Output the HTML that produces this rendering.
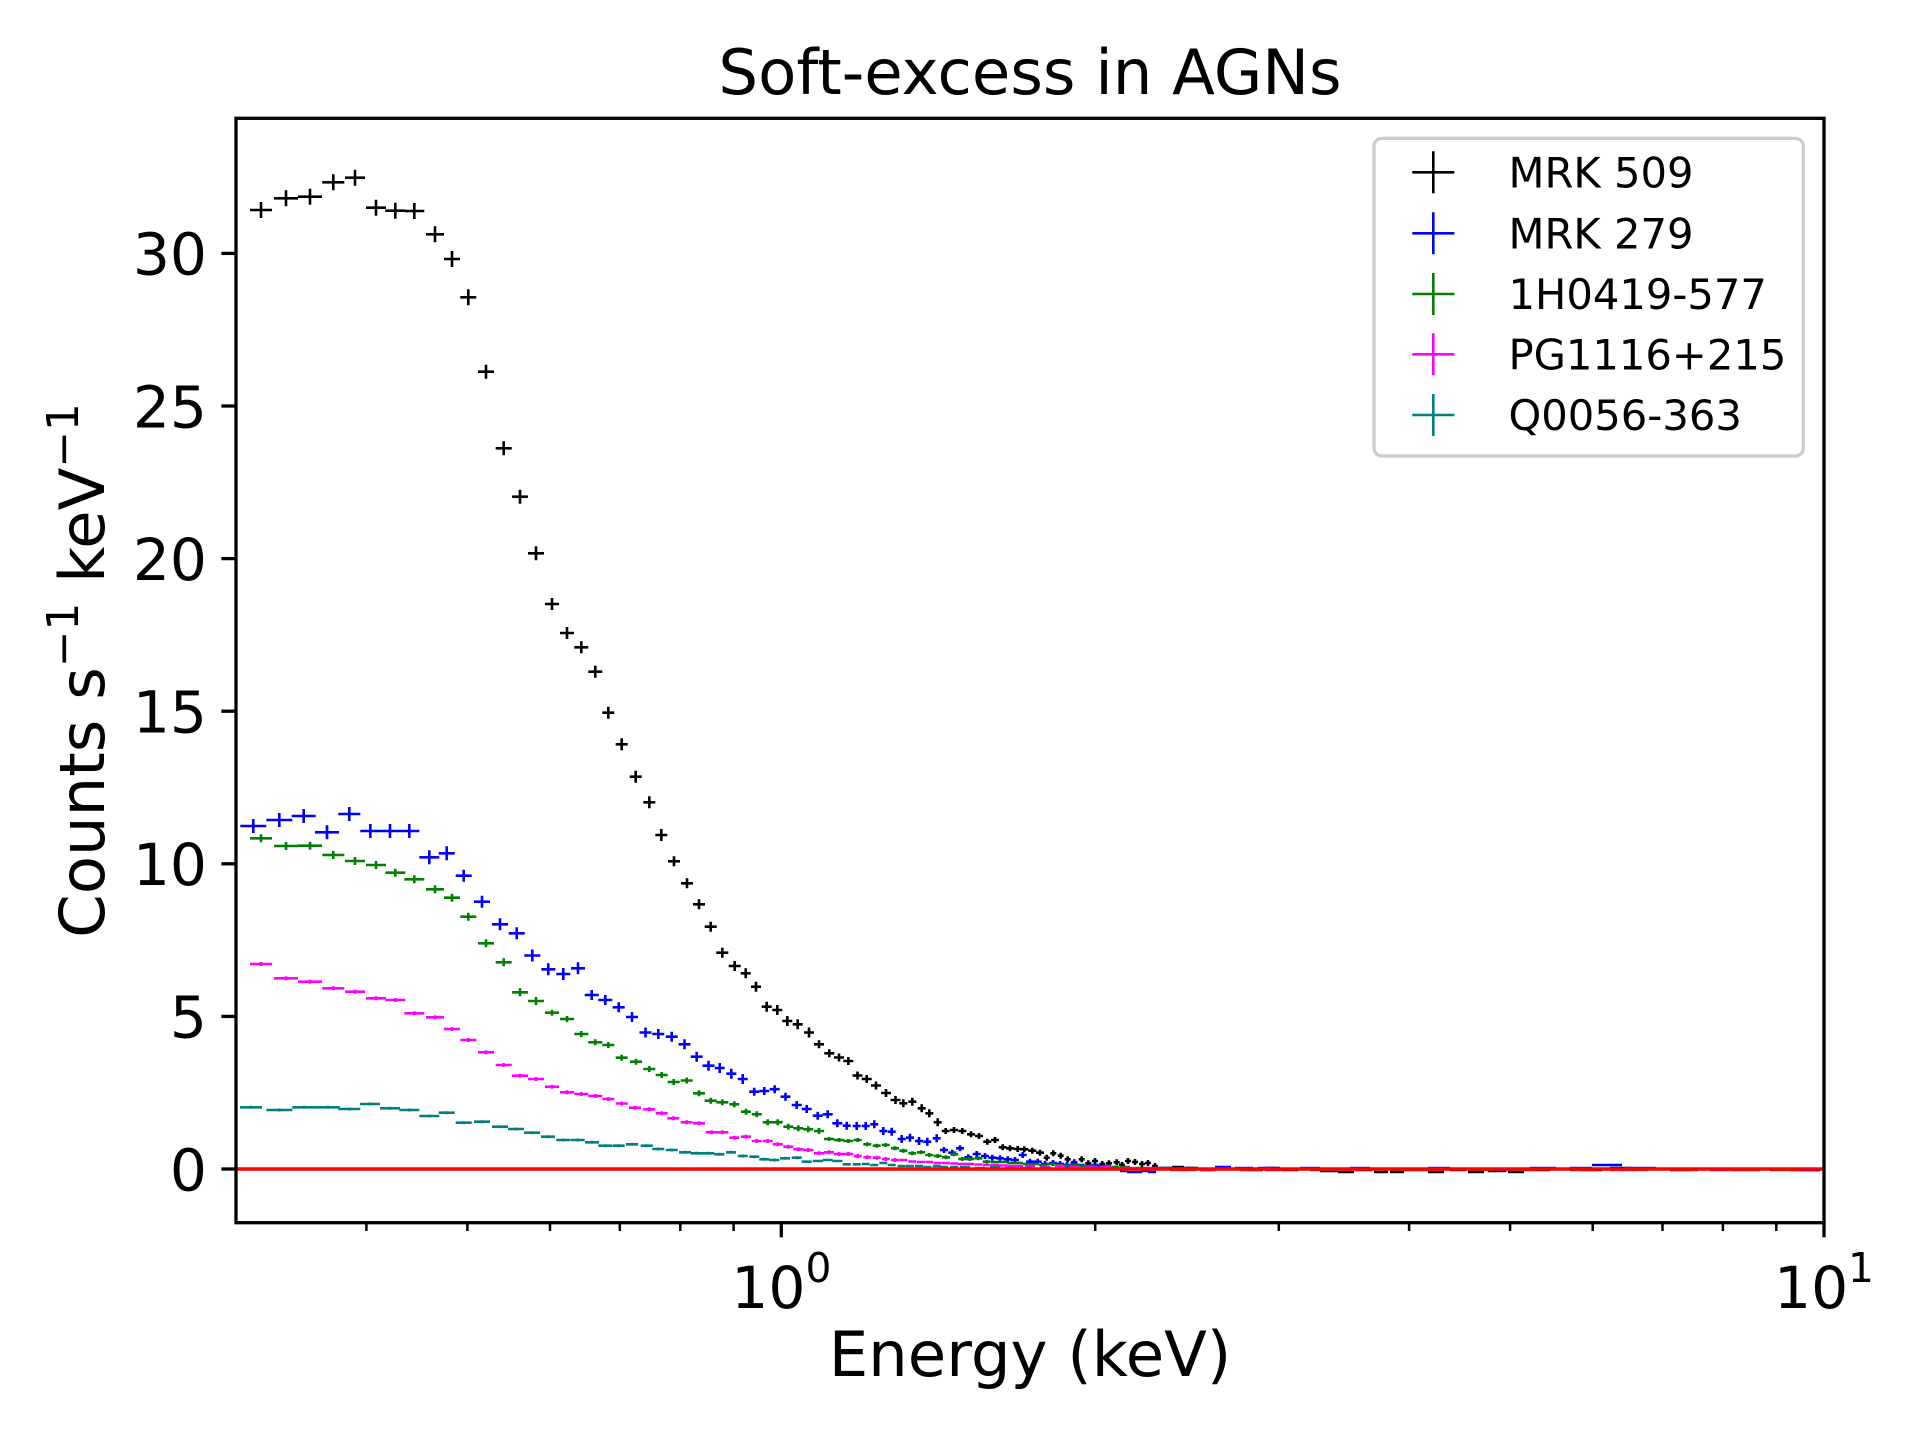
<!DOCTYPE html>
<html>
<head>
<meta charset="utf-8">
<style>
html,body{margin:0;padding:0;background:#fff;}
svg{display:block;}
text{font-family:"DejaVu Sans","Liberation Sans",sans-serif;fill:#000;}
</style>
</head>
<body>
<svg width="1920" height="1440" viewBox="0 0 1920 1440" xmlns="http://www.w3.org/2000/svg">
<rect x="0" y="0" width="1920" height="1440" fill="#fff"/>

<!-- Title -->
<text x="1030" y="94" text-anchor="middle" font-size="62.5">Soft-excess in AGNs</text>

<g fill="none" stroke-width="2.6" stroke-linecap="butt">
<!-- MRK 509 (black) -->
<path stroke="#000" d="M250 210h22M261 202v16M274 198.3h24M286 190.3v16M298 196.7h24M310 188.7v16M322.3 182.3h22M333.3 174.3v16M345 177.7h20M355 169.7v16M366 207.7h20M376 199.7v16M385.3 210.7h20M395.3 202.7v16M404.3 211h20M414.3 203v16M426 234.3h18M435 226.3v16M444 259h16M452 251v16M460.3 297.3h16M468.3 289.3v16M478 371.7h16M486 364.7v14M495.7 448.3h16M503.7 441.3v14M512 496.7h16M520 489.7v14M528 553.3h16M536 546.3v14M545 604h14M552 598v12M560 633h14M567 627v12M574.3 647.3h14M581.3 641.3v12M588.3 671.7h14M595.3 665.7v12M602.3 712.7h12M608.3 706.7v12M615.7 744.3h12M621.7 738.3v12M629.7 776.7h12M635.7 770.7v12M643.3 802.3h12M649.3 796.3v12M655.3 835h12M661.3 829v12M668 861.3h12M674 856.3v10M681 883.3h12M687 878.3v10M693 904.3h12M699 899.3v10M704.7 926.7h12M710.7 921.7v10M716.3 952.7h12M722.3 947.7v10M728.7 966h12M734.7 961v10M740.7 973.3h10M745.7 968.3v10M751 986.7h10M756 981.7v10M761.7 1006.7h10M766.7 1001.7v10M772.3 1010h10M777.3 1005v10M782.3 1021h10M787.3 1016v10M792.7 1024.3h10M797.7 1019.3v10M804 1032.5h10M809 1027.5v10M814 1044.3h10M819 1040.3v8M824.3 1053.3h10M829.3 1049.3v8M834 1057.5h10M839 1053.5v8M843.3 1061h10M848.3 1057v8M852.5 1075.5h10M857.5 1071.5v8M861.7 1079h10M866.7 1075v8M871 1085.5h10M876 1081.5v8M881 1093h10M886 1089v8M890.5 1100h10M895.5 1096v8M899.3 1103.3h8M903.3 1099.3v8M908.3 1101.7h8M912.3 1097.7v8M917.7 1108.3h8M921.7 1104.3v8M925.3 1113.3h8M929.3 1109.3v8M933.7 1122.3h8M937.7 1118.3v8M941.7 1131h8M945.7 1128v6M950 1130h8M954 1127v6M958.3 1131h8M962.3 1128v6M967 1134.3h8M971 1131.3v6M975 1136h8M979 1133v6M983.3 1141.7h8M987.3 1138.7v6M991 1140h8M995 1137v6M998.7 1147.3h8M1002.7 1144.3v6M1006 1148.3h8M1010 1145.3v6M1013.7 1149h8M1017.7 1146v6M1020.3 1149.3h8M1024.3 1146.3v6M1028.3 1150.7h8M1032.3 1147.7v6M1036 1152.7h8M1040 1149.7v6M1043.7 1157.7h6M1046.7 1154.7v6M1050.3 1153.3h6M1053.3 1150.3v6M1057.7 1155.7h6M1060.7 1152.7v6M1064.7 1159.3h6M1067.7 1156.3v6M1071.3 1162.3h6M1074.3 1159.3v6M1078.7 1159.3h6M1081.7 1156.3v6M1085.3 1163.3h6M1088.3 1160.3v6M1092 1161h6M1095 1158v6M1099.3 1164h6M1102.3 1161v6M1106 1163.3h6M1109 1160.3v6M1113.7 1162.3h6M1116.7 1159.3v6M1119 1165h6M1122 1162v6M1125 1161h6M1128 1158v6M1132 1162h6M1135 1159v6M1139 1164h6M1142 1161v6M1145 1163h6M1148 1160v6M1152 1166h6M1155 1163v6M1159 1168h12M1172 1167h12M1186 1168h12M1200 1170h13M1215 1168h14M1231 1169h15M1248 1170h15M1265 1168h15M1282 1170h16M1300 1169h18M1320 1171h18M1338 1172h16M1356 1170h16M1374 1172h14M1390 1172h14M1410 1170h16M1428 1172h16M1450 1170h16M1468 1172h16M1488 1171h18M1508 1172h16M1530 1170h20M1555 1169h20M1580 1170h22M1610 1168h22M1640 1169h22M1670 1170h22M1700 1169h25M1735 1170h25M1770 1169h25M1798 1170h22"/>

<!-- MRK 279 (blue) -->
<path stroke="#0000ff" d="M240.3 826h26M253.3 819v14M266.3 820h26M279.3 813v14M291.7 816h24M303.7 809v14M315 832.3h24M327 825.3v14M338.3 814h22M349.3 807v14M360.3 831h20M370.3 824v14M380 831h20M390 824v14M399.3 831h20M409.3 824v14M419.3 857.3h20M429.3 850.3v14M438.7 853.3h16M446.7 846.3v14M455.7 875.7h16M463.7 869.7v12M474 901.7h16M482 895.7v12M492 924.3h16M500 918.3v12M508.7 933.3h16M516.7 927.3v12M524.3 955.5h16M532.3 949.5v12M541.3 969.3h14M548.3 963.3v12M556.3 974h14M563.3 968v12M571 968.3h14M578 962.3v12M584.7 995h14M591.7 990v10M598.3 1000h14M605.3 995v10M612.7 1007.3h12M618.7 1002.3v10M626 1017h12M632 1012v10M639.5 1032.5h12M645.5 1027.5v10M652.3 1034h12M658.3 1029v10M665.7 1036.7h12M671.7 1031.7v10M678.5 1044.3h12M684.5 1039.3v10M690.7 1056.7h12M696.7 1051.7v10M702.5 1065.7h12M708.5 1060.7v10M714.7 1068h10M719.7 1063v10M726.3 1073.7h10M731.3 1068.7v10M737.7 1079h10M742.7 1074v10M749.2 1091.7h10M754.2 1087.7v8M759.3 1091h10M764.3 1087v8M769.7 1089.2h10M774.7 1085.2v8M780.5 1096.7h10M785.5 1092.7v8M791.7 1105h10M796.7 1101v8M801.7 1109h10M806.7 1105v8M812.7 1115.7h10M817.7 1111.7v8M822.7 1114.3h10M827.7 1110.3v8M832.3 1123.3h10M837.3 1119.3v8M842.7 1125.7h8M846.7 1121.7v8M852.7 1126h8M856.7 1122v8M861.7 1126h8M865.7 1122v8M870.3 1124.3h8M874.3 1120.3v8M879.3 1131h8M883.3 1127v8M887.7 1131.7h8M891.7 1127.7v8M897.7 1139h8M901.7 1135v8M906 1137.7h8M910 1133.7v8M915 1141h8M919 1137v8M923.3 1141.7h8M927.3 1137.7v8M932.7 1138.3h8M936.7 1134.3v8M940 1150h8M944 1147v6M948.3 1152.7h8M952.3 1149.7v6M956 1148.3h8M960 1145.3v6M964.3 1157.3h8M968.3 1154.3v6M972.7 1154h8M976.7 1151v6M981 1156h8M985 1153v6M988.3 1157.7h8M992.3 1154.7v6M996 1158.3h8M1000 1155.3v6M1003.7 1159.3h8M1007.7 1156.3v6M1011 1160h8M1015 1157v6M1018.7 1155h8M1022.7 1152v6M1026 1161.7h8M1030 1158.7v6M1033.7 1161.7h8M1037.7 1158.7v6M1041 1164h8M1045 1161v6M1049 1163h8M1053 1160v6M1056 1164h8M1060 1161v6M1063.5 1165h7M1067 1162v6M1070.5 1163h7M1074 1160v6M1077.5 1165h7M1084.5 1166h7M1091.5 1165h7M1098.5 1166h7M1105.5 1167h7M1112.5 1168h7M1120 1171h8M1127 1172h8M1134 1172h8M1141 1171h8M1148 1172h8M1160 1168h14M1178 1168h16M1196 1169h16M1215 1167h16M1235 1168h18M1258 1168h18M1280 1169h18M1300 1168h20M1325 1169h20M1350 1168h20M1375 1169h20M1400 1170h22M1428 1168h22M1455 1169h24M1490 1170h24M1530 1168h26M1570 1168h22M1592 1165h30M1630 1168h26M1670 1169h28M1710 1169h28M1750 1169h28M1790 1170h30"/>

<!-- 1H0419-577 (green) -->
<path stroke="#008000" d="M250 838.3h22M261 834.3v8M274 846h24M286 842v8M298 845.7h24M310 841.7v8M322.3 855h22M333.3 851v8M345 861h20M355 857v8M366 865h20M376 861v8M385.3 872.7h20M395.3 868.7v8M404.3 879.3h20M414.3 875.3v8M426 889.3h18M435 885.3v8M444 897.7h16M452 893.7v8M460.3 916.7h16M468.3 912.7v8M478 943.3h16M486 939.3v8M495.7 962.3h16M503.7 958.3v8M512 992.3h16M520 988.3v8M528 1001h16M536 997v8M545 1012.7h14M552 1009.7v6M560 1019h14M567 1016v6M574.3 1034h14M581.3 1031v6M588.3 1042.3h14M595.3 1039.3v6M602.3 1045h12M608.3 1042v6M615.7 1057.7h12M621.7 1054.7v6M630 1061.7h12M636 1058.7v6M643.3 1069h12M649.3 1066v6M655.7 1075h12M661.7 1072v6M667.7 1082h12M673.7 1079v6M680.7 1080.5h12M686.7 1077.5v6M693 1093.3h12M699 1090.3v6M704.7 1100.7h12M710.7 1097.7v6M716.3 1102.3h12M722.3 1099.3v6M729.3 1104.3h10M734.3 1101.3v6M741 1111.7h10M746 1108.7v6M751.7 1114.3h10M756.7 1111.3v6M762.7 1122.3h10M767.7 1119.3v6M772.7 1122.3h10M777.7 1119.3v6M783.3 1126.7h10M788.3 1123.7v6M793.3 1128.3h10M798.3 1125.3v6M803.3 1129.3h10M808.3 1126.3v6M814 1131h10M819 1128v6M824 1139h10M829 1137v4M834 1140h10M839 1138v4M843.3 1141h10M848.3 1139v4M853.7 1140h8M857.7 1138v4M863.3 1144.3h8M867.3 1142.3v4M872.7 1145.7h8M876.7 1143.7v4M881.7 1145h8M885.7 1143v4M891 1148.3h8M895 1146.3v4M899.3 1150.7h8M903.3 1148.7v4M908.3 1153.3h8M912.3 1151.3v4M917 1152.3h8M921 1150.3v4M925.3 1155h8M929.3 1153v4M933.7 1156h8M937.7 1154v4M942 1157.3h8M946 1155.3v4M950.3 1154.3h8M954.3 1152.3v4M958.3 1159h8M962.3 1157v4M966 1159h8M970 1157v4M974.3 1158.3h8M978.3 1156.3v4M982.7 1161.7h8M986.7 1159.7v4M991 1162h8M999 1162h8M1007 1163h8M1015 1163h8M1023 1164h8M1031 1164h8M1039 1165h8M1047 1164h8M1055 1165h8M1063 1166h8M1071 1165h8M1079 1166h8M1087 1166h8M1095 1167h8M1103 1166h8M1111 1167h8M1120 1167h10M1135 1168h12M1155 1168h14M1180 1170h16M1210 1169h16M1240 1170h18M1275 1169h18M1310 1170h20M1350 1169h20M1390 1170h22M1430 1169h22M1470 1170h24M1520 1169h24M1570 1170h26M1620 1169h26M1670 1170h28M1720 1169h28M1770 1170h30"/>

<!-- PG1116+215 (magenta) -->
<path stroke="#ff00ff" d="M250 964h22M261 962v4M274 978.3h24M286 976.3v4M298 981.7h24M310 979.7v4M322.3 988.3h22M333.3 986.3v4M345 991.7h20M355 989.7v4M366 998.3h20M376 996.3v4M385.3 1000h20M395.3 998v4M404.3 1013.3h20M414.3 1011.3v4M426 1017.3h18M435 1015.3v4M444 1029h16M452 1027v4M460.3 1040h16M468.3 1038v4M478 1052.3h16M486 1050.3v4M495.7 1065h16M503.7 1063v4M512 1075.7h16M520 1073.7v4M528 1079h16M536 1077v4M545 1086.7h14M552 1084.7v4M560 1092.3h14M567 1090.3v4M574.3 1094h14M581.3 1092v4M588.3 1096h14M595.3 1094v4M602.3 1099h12M608.3 1097v4M615.7 1103.5h12M621.7 1101.5v4M629 1107.7h12M635 1105.7v4M643.3 1109.3h12M649.3 1107.3v4M655.7 1113.3h12M661.7 1111.3v4M667.3 1118.3h12M673.3 1116.3v4M680.7 1122.3h12M686.7 1120.3v4M693 1123.3h12M699 1121.3v4M705.7 1132.3h12M711.7 1130.3v4M716.3 1132.3h12M722.3 1130.3v4M729.3 1137.7h10M734.3 1135.7v4M741 1136.7h10M746 1134.7v4M751.7 1141h10M756.7 1139v4M762.7 1141h10M767.7 1139v4M772.7 1144.3h10M777.7 1142.3v4M783.3 1146.7h10M788.3 1144.7v4M793.3 1149.3h10M798.3 1147.3v4M803.3 1150h10M808.3 1148v4M814 1153.3h10M819 1151.3v4M824 1152.3h10M829 1150.3v4M834 1154h10M839 1152v4M843.3 1154h10M848.3 1152v4M853.7 1156h8M857.7 1154v4M863.3 1157.3h8M867.3 1155.3v4M872.7 1157.7h8M876.7 1155.7v4M881.7 1159h8M885.7 1157v4M891 1160h8M895 1158v4M899.3 1160h8M908.3 1161.5h8M917 1162h8M925.3 1162h8M933.7 1163h8M942 1163h8M950.3 1163.5h8M958.3 1164h8M966 1164h8M974.3 1164.5h8M982.7 1165h8M991 1165h8M999 1165.5h8M1007 1166h8M1015 1166h8M1025 1166h10M1040 1167h10M1055 1166h10M1070 1167h10M1085 1167h12M1100 1167h12M1120 1168h14M1145 1168h14M1170 1169h16M1200 1170h16M1230 1169h18M1265 1170h18M1300 1169h20M1340 1170h20M1380 1169h22M1420 1170h22M1460 1169h24M1510 1170h24M1560 1169h26M1610 1170h26M1660 1169h28M1710 1170h28M1760 1169h30"/>

<!-- Q0056-363 (teal) -->
<path stroke="#008080" d="M240 1107.3h22M251 1105.8v3M266.3 1110h26M279.3 1108.5v3M292.3 1107.3h24M304.3 1105.8v3M315.7 1107.3h24M327.7 1105.8v3M338.3 1109h22M349.3 1107.5v3M360 1104h20M370 1102.5v3M380 1108.3h20M390 1106.8v3M399.3 1110h20M409.3 1108.5v3M419.3 1116h20M429.3 1114.5v3M438.7 1112.7h16M446.7 1111.2v3M455.7 1122.7h16M463.7 1121.2v3M474 1121.7h16M482 1120.2v3M492 1126.7h16M500 1125.2v3M508 1129h16M516 1127.5v3M524 1132.7h16M532 1131.2v3M541 1136.7h14M548 1135.2v3M556.3 1140h14M563.3 1138.5v3M570.7 1140h14M577.7 1138.5v3M585 1142.3h14M592 1140.8v3M598.3 1145.7h14M605.3 1144.2v3M612.7 1145.7h12M618.7 1144.2v3M626 1144.3h12M632 1142.8v3M640.7 1145.7h12M646.7 1144.2v3M652.3 1149h12M658.3 1147.5v3M665.7 1150h12M671.7 1148.5v3M679 1152.3h12M685 1150.8v3M690.7 1153.3h12M696.7 1151.8v3M702.3 1153.3h12M708.3 1151.8v3M714.3 1154.3h10M719.3 1152.8v3M726 1152.3h10M731 1150.8v3M737.7 1156h10M742.7 1154.5v3M749.3 1156.7h10M754.3 1155.2v3M759.3 1159.3h10M764.3 1157.8v3M769.3 1160h10M774.3 1158.5v3M780 1158.3h10M785 1156.8v3M791.7 1157.7h10M796.7 1156.2v3M801.7 1161.7h10M812.7 1161h10M822.7 1160h10M832.3 1161h10M842.7 1164.3h8M852.7 1164.3h8M861.7 1164h8M870.3 1165h8M879.3 1163h8M887.7 1165h8M897.7 1166h8M906 1166h8M915 1166h8M923.3 1167h8M932.7 1166h8M940 1167h8M950 1167h8M960 1167h10M975 1168h10M990 1167h10M1005 1168h10M1020 1168h12M1040 1168h12M1060 1169h14M1085 1168h14M1110 1169h16M1140 1169h16M1170 1170h18M1205 1169h18M1240 1170h20M1280 1169h20M1320 1170h22M1365 1169h22M1410 1170h24M1460 1169h24M1510 1170h26M1565 1169h26M1620 1170h28M1675 1169h28M1730 1170h30M1785 1169h30"/>
</g>

<!-- red zero line -->
<line x1="236" y1="1169" x2="1824" y2="1169" stroke="#ff0000" stroke-width="3.5"/>

<!-- Axes spines -->
<rect x="236" y="118.3" width="1588" height="1104.4" fill="none" stroke="#000" stroke-width="3.3"/>

<!-- Y ticks -->
<g stroke="#000" stroke-width="3.3">
<line x1="221.4" y1="1169" x2="236" y2="1169"/>
<line x1="221.4" y1="1016.4" x2="236" y2="1016.4"/>
<line x1="221.4" y1="863.8" x2="236" y2="863.8"/>
<line x1="221.4" y1="711.2" x2="236" y2="711.2"/>
<line x1="221.4" y1="558.6" x2="236" y2="558.6"/>
<line x1="221.4" y1="406" x2="236" y2="406"/>
<line x1="221.4" y1="253.4" x2="236" y2="253.4"/>
<!-- X major ticks -->
<line x1="781.3" y1="1222.7" x2="781.3" y2="1237.3"/>
<line x1="1824" y1="1222.7" x2="1824" y2="1237.3"/>
</g>
<!-- X minor ticks -->
<g stroke="#000" stroke-width="2.5">
<line x1="366.4" y1="1222.7" x2="366.4" y2="1231"/>
<line x1="467.4" y1="1222.7" x2="467.4" y2="1231"/>
<line x1="550" y1="1222.7" x2="550" y2="1231"/>
<line x1="619.8" y1="1222.7" x2="619.8" y2="1231"/>
<line x1="680.3" y1="1222.7" x2="680.3" y2="1231"/>
<line x1="733.6" y1="1222.7" x2="733.6" y2="1231"/>
<line x1="1095.2" y1="1222.7" x2="1095.2" y2="1231"/>
<line x1="1278.8" y1="1222.7" x2="1278.8" y2="1231"/>
<line x1="1409.1" y1="1222.7" x2="1409.1" y2="1231"/>
<line x1="1510.1" y1="1222.7" x2="1510.1" y2="1231"/>
<line x1="1592.7" y1="1222.7" x2="1592.7" y2="1231"/>
<line x1="1662.5" y1="1222.7" x2="1662.5" y2="1231"/>
<line x1="1722.9" y1="1222.7" x2="1722.9" y2="1231"/>
<line x1="1776.3" y1="1222.7" x2="1776.3" y2="1231"/>
</g>

<!-- Y tick labels -->
<g font-size="58.3" text-anchor="end">
<text x="207" y="1190.3">0</text>
<text x="207" y="1037.7">5</text>
<text x="207" y="885.1">10</text>
<text x="207" y="732.5">15</text>
<text x="207" y="579.9">20</text>
<text x="207" y="427.3">25</text>
<text x="207" y="274.7">30</text>
</g>

<!-- X tick labels -->
<text x="731.3" y="1308" font-size="58.3">10</text>
<text x="805.5" y="1282" font-size="40.8">0</text>
<text x="1774" y="1308" font-size="58.3">10</text>
<text x="1848" y="1282" font-size="40.8">1</text>

<!-- Axis labels -->
<text x="1030" y="1376" text-anchor="middle" font-size="62.5">Energy (keV)</text>
<text transform="translate(104,670.5) rotate(-90)" text-anchor="middle" font-size="62.5">Counts s<tspan font-size="43.75" dy="-26">−1</tspan><tspan dy="26"> keV</tspan><tspan font-size="43.75" dy="-26">−1</tspan></text>

<!-- Legend -->
<rect x="1374" y="138.3" width="429.3" height="317.7" rx="8" ry="8" fill="#fff" fill-opacity="0.8" stroke="#cccccc" stroke-width="3.3"/>
<g fill="none" stroke-width="2.6">
<path stroke="#000" d="M1412.3 172.3h42M1433.3 151.3v42"/>
<path stroke="#0000ff" d="M1412.3 233.3h42M1433.3 212.3v42"/>
<path stroke="#008000" d="M1412.3 294h42M1433.3 273v42"/>
<path stroke="#ff00ff" d="M1412.3 354.3h42M1433.3 333.3v42"/>
<path stroke="#008080" d="M1412.3 415h42M1433.3 394v42"/>
</g>
<g font-size="41.67">
<text x="1508.5" y="187.3">MRK 509</text>
<text x="1508.5" y="248.3">MRK 279</text>
<text x="1508.5" y="309">1H0419-577</text>
<text x="1508.5" y="369.3">PG1116+215</text>
<text x="1508.5" y="430">Q0056-363</text>
</g>
</svg>
</body>
</html>
